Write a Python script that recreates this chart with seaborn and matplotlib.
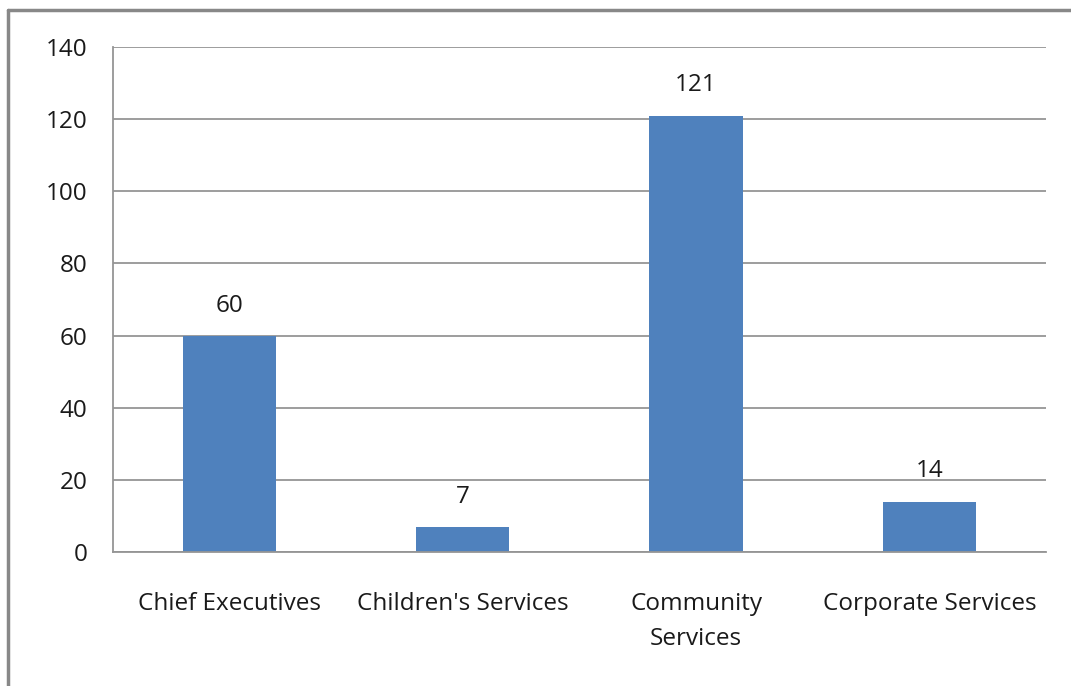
import matplotlib
matplotlib.use("Agg")
import matplotlib.pyplot as plt
import seaborn as sns

# dados
categories = ["Chief Executives", "Children's Services", "Community\nServices", "Corporate Services"]
values = [60, 7, 121, 14]
y_ticks = [0, 20, 40, 60, 80, 100, 120, 140]

sns.set_style("white")
plt.rcParams["font.family"] = ["Open Sans", "DejaVu Sans"]

grey = "#959595"
bar_color = "#4f81bd"
text_color = "#1a1a1a"
fs = 17.5

fig = plt.figure(figsize=(10.71, 6.86), dpi=100)
ax = fig.add_axes([0.1055, 0.1953, 0.8711, 0.7362])

sns.barplot(x=list(range(len(categories))), y=values, color=bar_color,
            width=0.4, saturation=1, linewidth=0, ax=ax, native_scale=True)

ax.set_xlim(-0.5, len(categories) - 0.5)
ax.set_ylim(0, 140)
ax.set_yticks(y_ticks)
ax.yaxis.grid(True, color=grey, linewidth=1.3)
ax.set_axisbelow(True)

# ticks nas fronteiras das categorias, rótulos no centro
ax.set_xticks([i - 0.5 for i in range(len(categories) + 1)])
ax.set_xticklabels([])
ax.set_xticks(range(len(categories)), minor=True)
ax.set_xticklabels(categories, minor=True, fontsize=fs, color=text_color, linespacing=1.6)
ax.tick_params(axis="x", which="major", length=8, width=1.3, color=grey, direction="out")
ax.tick_params(axis="x", which="minor", length=0, pad=29)
ax.tick_params(axis="y", length=6.5, width=1.3, color=grey, labelsize=fs,
               labelcolor=text_color, pad=12)

for side in ["top", "right"]:
    ax.spines[side].set_visible(False)
for side in ["left", "bottom"]:
    ax.spines[side].set_color(grey)
    ax.spines[side].set_linewidth(1.3)

ax.bar_label(ax.containers[0], labels=[str(v) for v in values], padding=13,
             fontsize=fs, color=text_color)
ax.set_xlabel("")
ax.set_ylabel("")

# moldura cortada (só topo e esquerda visíveis)
fig.add_artist(plt.Line2D([0.0075, 1.0], [0.985, 0.985], color="#888888", linewidth=2.5,
                          transform=fig.transFigure))
fig.add_artist(plt.Line2D([0.0075, 0.0075], [0.0, 0.985], color="#888888", linewidth=2.5,
                          transform=fig.transFigure))

fig.savefig("out.png", dpi=100)
plt.close(fig)
